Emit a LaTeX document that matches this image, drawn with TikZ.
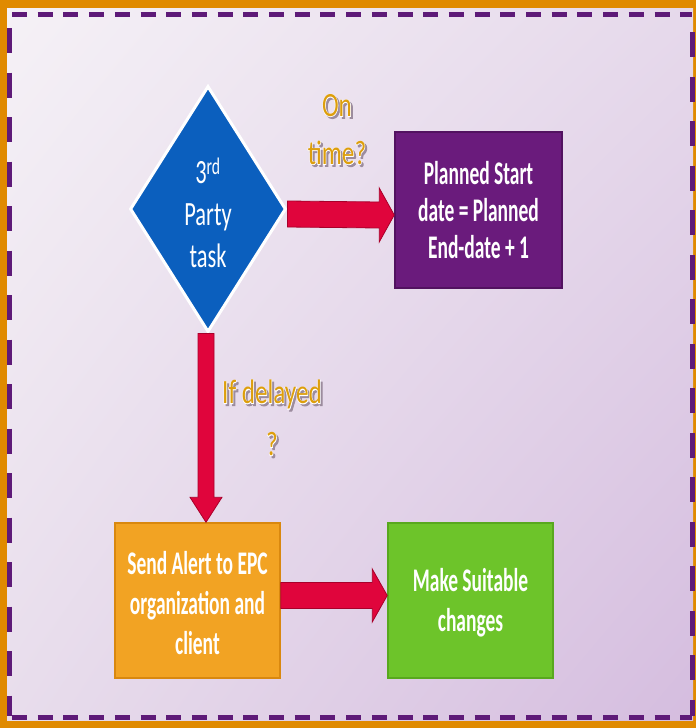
\documentclass[tikz,border=0pt]{standalone}
\usepackage{fontspec}
\setmainfont{Carlito}
\newfontfamily\boxfont{Carlito}[FakeStretch=0.59]
\newfontfamily\diafont{Carlito}[FakeStretch=0.66]
\newfontfamily\lblfont{Carlito}[FakeStretch=0.74]
\newfontfamily\lblglowfont{Carlito}[FakeStretch=0.74, FakeBold=3]
\usetikzlibrary{shapes.geometric,calc,shadings}

\definecolor{frameorange}{HTML}{E08A00}
\definecolor{dashpurple}{HTML}{5E1A78}
\definecolor{bgtl}{HTML}{F5F1F6}
\definecolor{bgtr}{HTML}{E6D9EB}
\definecolor{bgbl}{HTML}{E8DDEC}
\definecolor{bgbr}{HTML}{D5BDDF}
\definecolor{diablue}{HTML}{0B5FBE}
\definecolor{planfill}{HTML}{6A1B7C}
\definecolor{planedge}{HTML}{521260}
\definecolor{alertfill}{HTML}{F2A323}
\definecolor{alertedge}{HTML}{D9880F}
\definecolor{makefill}{HTML}{6DC42A}
\definecolor{makeedge}{HTML}{58A81E}
\definecolor{arrowred}{HTML}{E0053C}
\definecolor{arrowedge}{HTML}{A8002A}
\definecolor{labelgold}{HTML}{DD9E0C}
\definecolor{lblshade}{HTML}{9C8C9E}

% one line of branch label: soft shadow, white glow and gold letters, stacked
\newcommand\glowline[1]{%
  \makebox[0pt]{\raisebox{-2pt}{\hspace{4pt}\color{lblshade}\lblglowfont #1}}%
  \makebox[0pt]{\color{white}\lblglowfont #1}%
  \makebox[0pt]{\color{labelgold}\lblfont #1}}

\tikzset{
  stepbox/.style={draw, line width=1.5pt, minimum width=165pt, minimum height=155pt,
    inner sep=0pt},
  boxtext/.style={text=white, align=center, inner sep=0pt,
    font=\boxfont\fontsize{33}{40}\selectfont\bfseries},
  fatarrow/.style={fill=arrowred, draw=arrowedge, line width=0.8pt, line join=miter},
  lbl/.style={align=center, inner sep=0pt},
  topdash/.style={dashpurple, line width=4.5pt, dash pattern=on 15pt off 10.7pt},
  sidedash/.style={dashpurple, line width=4.5pt, dash pattern=on 25pt off 19.5pt},
}

\begin{document}
\begin{tikzpicture}[x=1pt, y=-1pt]
  \useasboundingbox (0,0) rectangle (696,728);

  % frame and background
  \fill[frameorange] (0,0) rectangle (696,728);
  \shade[upper left=bgtl, upper right=bgtr, lower left=bgbl, lower right=bgbr]
    (7,8) rectangle (693,720);

  % dashed inner border
  \draw[topdash] (12,14.5) -- (692,14.5);
  \draw[topdash] (12,717.5) -- (692,717.5);
  \draw[sidedash] (9.5,28) -- (9.5,716);
  \draw[sidedash] (692.5,32) -- (692.5,716);

  % decision
  \node[diamond, fill=diablue, draw=white, line width=3pt, inner sep=0pt,
        minimum width=156pt, minimum height=246pt] (dia) at (208,209) {};
  \node[text=white, align=center, inner sep=0pt,
        font=\diafont\fontsize{34}{42}\selectfont] (diatext)
    at (208,213) {3\textsuperscript{rd}\\Party\\task};

  % process boxes
  \node[stepbox, fill=planfill, draw=planedge, minimum width=167pt, minimum height=156pt]
    (plan) at (478.5,210) {};
  \node[boxtext, font=\boxfont\fontsize{33}{37}\selectfont\bfseries] (plantext)
    at (478.5,210) {Planned Start\\date = Planned\\End-date + 1};
  \node[stepbox, fill=alertfill, draw=alertedge] (alert) at (197.5,600.5) {};
  \node[boxtext] (alerttext) at (197.5,603) {Send Alert to EPC\\organization and\\client};
  \node[stepbox, fill=makefill, draw=makeedge] (make) at (470.5,600.5) {};
  \node[boxtext] (maketext) at (470.5,603) {Make Suitable\\changes};

  % fat arrows
  \coordinate (a1s) at ($(dia.east)+(0,5)$);
  \coordinate (a1e) at ($(plan.west)+(0,5)$);
  \draw[fatarrow] ($(a1s)+(0,-13)$) -- ($(a1e)+(-15,-13)$) -- ($(a1e)+(-15,-27)$)
    -- (a1e) -- ($(a1e)+(-15,27)$) -- ($(a1e)+(-15,13)$) -- ($(a1s)+(0,13)$) -- cycle;

  \coordinate (a2s) at ($(dia.south)+(-2,0)$);
  \coordinate (a2e) at (a2s |- alert.north);
  \draw[fatarrow] ($(a2s)+(-8,0)$) -- ($(a2e)+(-8,-25)$) -- ($(a2e)+(-16,-25)$)
    -- (a2e) -- ($(a2e)+(16,-25)$) -- ($(a2e)+(8,-25)$) -- ($(a2s)+(8,0)$) -- cycle;

  \coordinate (a3s) at ($(alert.east)+(0,-5)$);
  \coordinate (a3e) at ($(make.west)+(0,-5)$);
  \draw[fatarrow] ($(a3s)+(0,-13)$) -- ($(a3e)+(-15,-13)$) -- ($(a3e)+(-15,-26.5)$)
    -- (a3e) -- ($(a3e)+(-15,26.5)$) -- ($(a3e)+(-15,13)$) -- ($(a3s)+(0,13)$) -- cycle;

  % branch labels
  \node[lbl, font=\fontsize{34}{48}\selectfont] (ontime)
    at (337,130.5) {\glowline{On}\\\glowline{time?}};
  \node[lbl, font=\fontsize{34}{52}\selectfont] (delay)
    at (272,419) {\glowline{If delayed}\\\glowline{?}};
\end{tikzpicture}
\end{document}
